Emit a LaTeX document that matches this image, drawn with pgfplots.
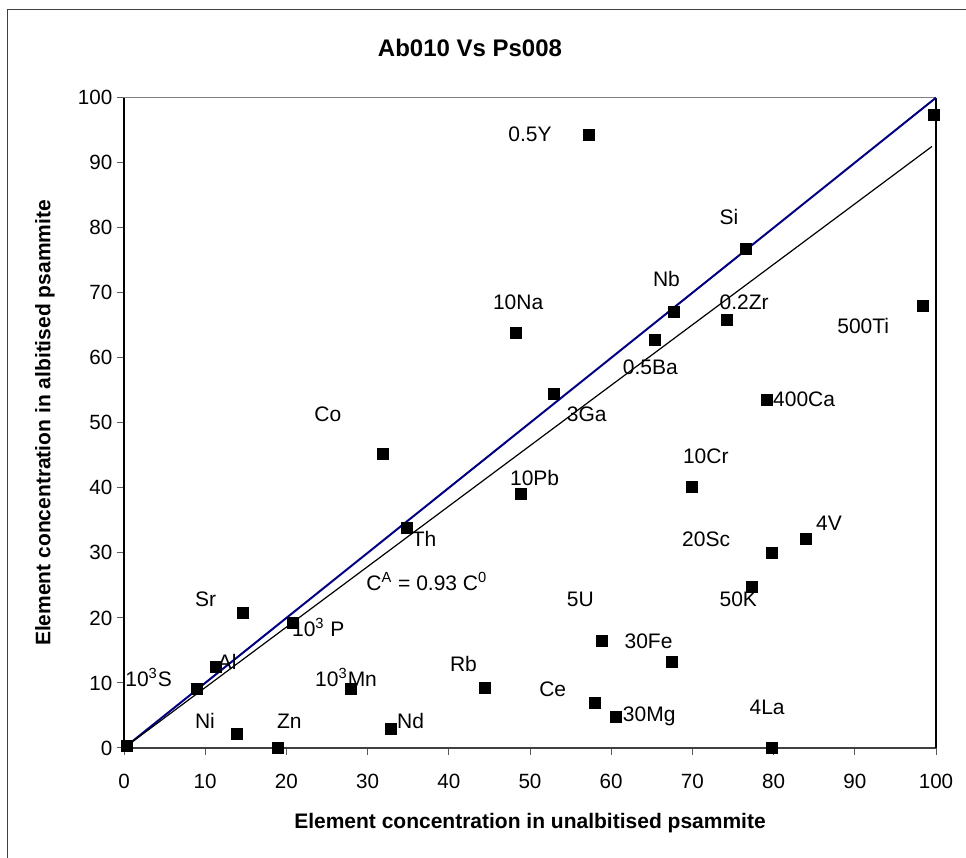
\documentclass[border=0pt]{standalone}
\usepackage{fontspec}
\setmainfont{Liberation Sans}
\usepackage{pgfplots}
\pgfplotsset{compat=1.18}
\definecolor{navyline}{RGB}{0,0,128}
\begin{document}
\begin{tikzpicture}[x=1pt,y=1pt]
\useasboundingbox (0,0) rectangle (483,429);
\draw[black!75, line width=0.5pt] (3.5,0) -- (3.5,424) -- (483,424);
\node[anchor=base, font=\bfseries\fontsize{12}{14}\selectfont] at (235,400.5) {Ab010 Vs Ps008};
\node[anchor=base, font=\bfseries\fontsize{10.5}{12}\selectfont] at (265,14.5) {Element concentration in unalbitised psammite};
\node[anchor=center, rotate=90, font=\bfseries\fontsize{10.5}{12}\selectfont] at (22.5,217.5) {Element concentration in albitised psammite};
\begin{axis}[
  at={(62pt,55pt)}, anchor=south west, scale only axis,
  width=406pt, height=325.15pt,
  xmin=0, xmax=100, ymin=0, ymax=100,
  xtick={0,10,...,100}, ytick={0,10,...,100},
  tick align=outside, major tick length=3.5pt,
  xtick pos=left, ytick pos=left,
  tick style={black!65, line width=0.5pt},
  axis line style={draw=none},
  ticklabel style={font=\fontsize{10.3}{12}\selectfont},
  /pgf/number format/assume math mode=true,
  xticklabel style={yshift=-6pt},
  yticklabel style={xshift=1.2pt},
  clip=false,
]
\draw[black!50, line width=0.5pt] (rel axis cs:0,1) -- (rel axis cs:1,1);
\draw[black!75, line width=0.6pt] (rel axis cs:0,0) -- (rel axis cs:1,0);
\draw[black, line width=0.65pt] (rel axis cs:0,0) -- (rel axis cs:0,1);
\draw[black, line width=0.6pt] (rel axis cs:1,0) -- (rel axis cs:1,1);
\addplot[navyline, line width=1pt] coordinates {(0,0) (100,100)};
\addplot[black, line width=0.6pt] coordinates {(0,0) (99.5,92.5)};
\addplot[only marks, mark=square*, mark size=2.75pt, black] coordinates {
(0.3,0.3) (8.95,9.1) (11.3,12.5) (14.6,20.7) (13.9,2.15) (18.9,0.05)
(20.8,19.2) (28.0,9.1) (32.9,3.0) (34.9,33.8) (31.9,45.2) (44.5,9.3)
(48.3,63.8) (48.9,39.1) (53.0,54.5) (57.2,94.3) (58.0,7.0) (60.6,4.8)
(58.8,16.5) (67.5,13.3) (65.4,62.7) (67.7,67.0) (69.9,40.2) (74.2,65.9)
(76.6,76.8) (77.3,24.8) (79.2,53.6) (79.8,30.0) (79.8,0.05) (84.0,32.2)
(98.4,68.0) (99.7,97.3)
};
\begin{scope}[every node/.style={anchor=base west, inner sep=0pt, font=\fontsize{10.5}{12}\selectfont}]
\node at (axis cs:0.12,9.5) {10\textsuperscript{3}S};
\node at (axis cs:11.5,12.0) {Al};
\node at (axis cs:8.7,21.7) {Sr};
\node at (axis cs:20.65,17.1) {10\textsuperscript{3} P};
\node at (axis cs:23.5,9.5) {10\textsuperscript{3}Mn};
\node at (axis cs:8.7,3.0) {Ni};
\node at (axis cs:18.8,3.0) {Zn};
\node at (axis cs:33.6,3.0) {Nd};
\node at (axis cs:40.1,11.8) {Rb};
\node at (axis cs:51.1,7.9) {Ce};
\node at (axis cs:61.4,4.05) {30Mg};
\node at (axis cs:73.3,21.7) {50K};
\node at (axis cs:61.6,15.3) {30Fe};
\node at (axis cs:77.0,5.2) {4La};
\node at (axis cs:73.3,80.5) {Si};
\node at (axis cs:65.1,70.9) {Nb};
\node at (axis cs:73.3,67.4) {0.2Zr};
\node at (axis cs:87.8,63.8) {500Ti};
\node at (axis cs:61.4,57.5) {0.5Ba};
\node at (axis cs:45.4,67.4) {10Na};
\node at (axis cs:23.4,50.2) {Co};
\node at (axis cs:54.5,50.2) {3Ga};
\node at (axis cs:47.5,40.4) {10Pb};
\node at (axis cs:35.4,31.0) {Th};
\node at (axis cs:29.8,24.2) {C\textsuperscript{A} = 0.93 C\textsuperscript{0}};
\node at (axis cs:54.5,21.8) {5U};
\node at (axis cs:47.3,93.2) {0.5Y};
\node at (axis cs:79.9,52.5) {400Ca};
\node at (axis cs:68.8,43.7) {10Cr};
\node at (axis cs:85.2,33.4) {4V};
\node at (axis cs:68.7,31.0) {20Sc};
\end{scope}
\end{axis}
\end{tikzpicture}
\end{document}
